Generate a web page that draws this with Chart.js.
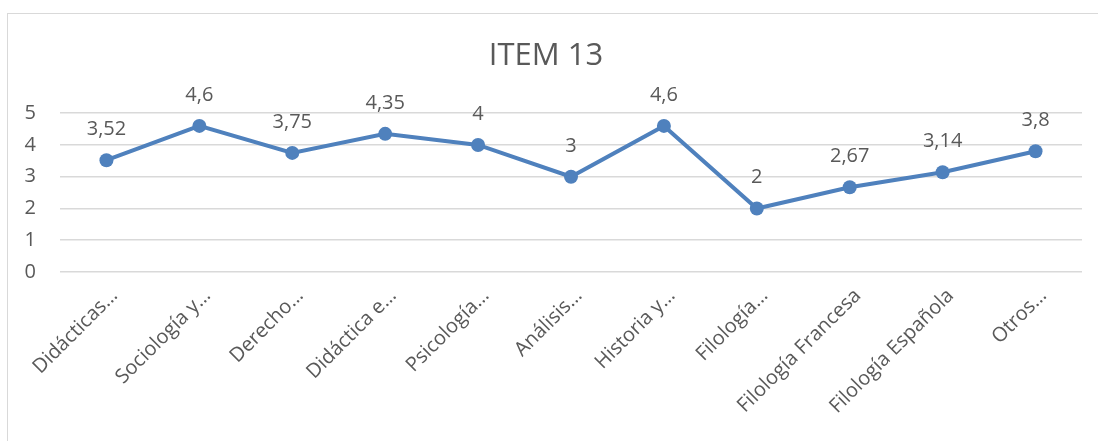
<!DOCTYPE html>
<html>
<head>
<meta charset="utf-8">
<script src="https://cdn.jsdelivr.net/npm/chart.js@4/dist/chart.umd.min.js"></script>
<style>
  html, body { margin: 0; padding: 0; background: #fff; overflow: hidden; }
  #wrap { position: absolute; left: 0; top: 0; width: 1098px; height: 441px; }
  #frame { position: absolute; left: 7px; top: 13px; width: 1200px; height: 440px; border: 1px solid #d9d9d9; box-sizing: border-box; }
</style>
</head>
<body>
<div id="frame"></div>
<div id="wrap"><canvas id="chart" width="1098" height="441"></canvas></div>
<script>
const categories = [
  'Didácticas…', 'Sociología y…', 'Derecho…', 'Didáctica e…', 'Psicología…',
  'Análisis…', 'Historia y…', 'Filología…', 'Filología Francesa', 'Filología Española', 'Otros…'
];
const item13 = [3.52, 4.6, 3.75, 4.35, 4, 3, 4.6, 2, 2.67, 3.14, 3.8];
const yTicks = [0, 1, 2, 3, 4, 5];

const textColor = '#595959';
const lineColor = '#4f81bd';
const fontFamily = '"Open Sans", sans-serif';

// labels above each point, decimal comma like the original
const valueLabels = {
  id: 'valueLabels',
  afterDatasetsDraw(chart) {
    const { ctx } = chart;
    const meta = chart.getDatasetMeta(0);
    ctx.save();
    ctx.font = '20px ' + fontFamily;
    ctx.fillStyle = textColor;
    ctx.textAlign = 'center';
    ctx.textBaseline = 'alphabetic';
    meta.data.forEach((pt, i) => {
      const txt = String(item13[i]).replace('.', ',');
      ctx.fillText(txt, pt.x, pt.y - 25);
    });
    ctx.restore();
  }
};

new Chart(document.getElementById('chart'), {
  type: 'line',
  data: {
    labels: categories,
    datasets: [
      {
        label: 'ITEM 13',
        data: item13,
        borderColor: lineColor,
        backgroundColor: lineColor,
        borderWidth: 4,
        pointRadius: 7,
        pointHoverRadius: 7,
        pointBorderWidth: 0,
        tension: 0,
        fill: false
      }
    ]
  },
  options: {
    responsive: false,
    animation: false,
    layout: {
      padding: { top: 38, left: 10, right: 16, bottom: 0 }
    },
    plugins: {
      legend: { display: false },
      tooltip: { enabled: false },
      title: {
        display: true,
        text: 'ITEM 13',
        color: textColor,
        font: { family: fontFamily, size: 31, weight: 'normal', lineHeight: 1.2 },
        padding: { top: 0, bottom: 38 }
      }
    },
    scales: {
      x: {
        offset: true,
        grid: { display: false },
        border: { display: false },
        ticks: {
          color: textColor,
          font: { family: fontFamily, size: 20 },
          minRotation: 45,
          maxRotation: 45,
          autoSkip: false,
          padding: 4,
          labelOffset: 8
        },
        afterFit(scale) { scale.height = 169; }
      },
      y: {
        min: 0,
        max: 5,
        afterBuildTicks(scale) { scale.ticks = yTicks.map(v => ({ value: v })); },
        grid: { color: '#d9d9d9', lineWidth: 1.5, drawTicks: false },
        border: { display: false },
        ticks: {
          color: textColor,
          font: { family: fontFamily, size: 20 },
          padding: 24
        },
        afterFit(scale) { scale.width = 50; }
      }
    }
  },
  plugins: [valueLabels]
});
</script>
</body>
</html>
